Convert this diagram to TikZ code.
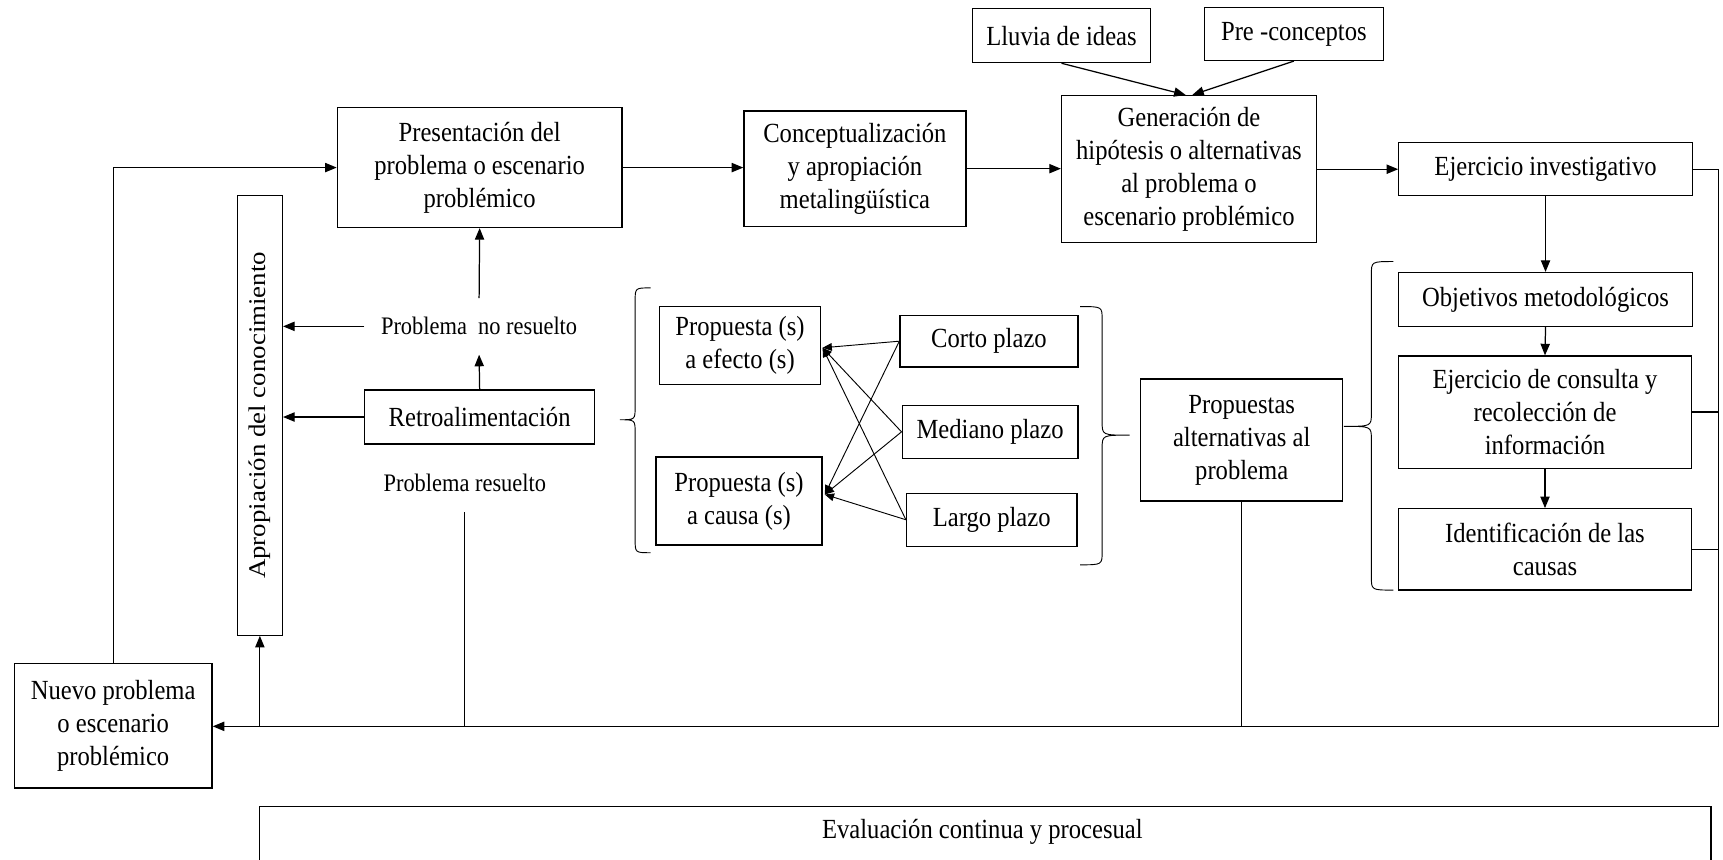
\documentclass[tikz,border=0pt]{standalone}
\usepackage{fontspec}
\setmainfont{Liberation Serif}[FakeStretch=0.89]
\newfontfamily\rotfont{Liberation Serif}
\usetikzlibrary{arrows.meta,calc}
\begin{document}
\begin{tikzpicture}[x=0.025cm,y=-0.025cm,
  box/.style={draw,line width=0.8pt,align=center,inner sep=0pt,font=\fontsize{17.9pt}{21.3pt}\selectfont},
  txt/.style={align=center,inner sep=0pt,font=\fontsize{17.9pt}{21.3pt}\selectfont},
  smalltxt/.style={align=center,inner sep=0pt,font=\fontsize{16.3pt}{19.5pt}\selectfont},
  ln/.style={line width=0.8pt},
  bracel/.style={line width=0.6pt},
  arr/.style={line width=0.8pt,-{Triangle[length=7.5pt,width=6pt]}},
  arrs/.style={line width=0.6pt,-{Triangle[length=6pt,width=5pt]}}]
\useasboundingbox (0,0) rectangle (1568,782);
\begin{scope}
\clip (0,0) rectangle (1568,782);
\node[box,minimum width=33.025cm,minimum height=2.5cm] (evalbox) at (896.5,784) {};
\end{scope}
\node[txt] (evaltxt) at (894,757) {Evaluación continua y procesual};

% top row
\node[box,minimum width=4.05cm,minimum height=1.225cm] (lluvia) at (966,32.5) {Lluvia de ideas};
\node[box,minimum width=4.075cm,minimum height=1.2cm] (pre) at (1177.5,31) {Pre -conceptos};
\node[box,minimum width=5.8cm,minimum height=3.35cm] (gen) at (1082,154) {Generación de\\hipótesis o alternativas\\al problema o\\escenario problémico};
\node[box,minimum width=6.475cm,minimum height=2.725cm] (pres) at (436.5,152.5) {Presentación del\\problema o escenario\\problémico};
\node[box,minimum width=5.05cm,minimum height=2.625cm] (concept) at (778,153.5) {Conceptualización\\y apropiación\\metalingüística};
\node[box,minimum width=6.675cm,minimum height=1.2cm] (ejinv) at (1406.5,154) {Ejercicio investigativo};

% right column
\node[box,minimum width=6.675cm,minimum height=1.225cm] (obj) at (1406.5,272.5) {Objetivos metodológicos};
\node[box,minimum width=6.65cm,minimum height=2.55cm] (consulta) at (1406,375) {Ejercicio de consulta y\\recolección de\\información};
\node[box,minimum width=6.65cm,minimum height=1.85cm] (ident) at (1406,500) {Identificación de las\\causas};

% left part
\node[box,minimum width=4.5cm,minimum height=2.825cm] (nuevo) at (103,660.5) {Nuevo problema\\o escenario\\problémico};
\node[box,minimum width=1.025cm,minimum height=10cm] (apro) at (236.5,378) {\rotatebox{90}{\scalebox{1}[0.89]{\rotfont\fontsize{17.4pt}{20pt}\selectfont Apropiación del conocimiento}}};
\node[box,minimum width=5.225cm,minimum height=1.225cm] (retro) at (436.5,379.5) {Retroalimentación};
\node[smalltxt,minimum width=5.2cm,minimum height=1.275cm] (nores) at (436,297) {Problema\ \ no resuelto};
\node[smalltxt,minimum height=1.35cm] (res) at (423,439) {Problema resuelto};

% middle
\node[box,minimum width=3.675cm,minimum height=1.775cm] (efecto) at (673.5,314.5) {Propuesta (s)\\a efecto (s)};
\node[box,minimum width=3.775cm,minimum height=2cm] (causa) at (672.5,456) {Propuesta (s)\\a causa (s)};
\node[box,minimum width=4.05cm,minimum height=1.175cm] (corto) at (900,310.5) {Corto plazo};
\node[box,minimum width=4cm,minimum height=1.2cm] (mediano) at (901,393) {Mediano plazo};
\node[box,minimum width=3.875cm,minimum height=1.2cm] (largo) at (902.5,473) {Largo plazo};
\node[box,minimum width=4.6cm,minimum height=2.775cm] (propalt) at (1130,400.5) {Propuestas\\alternativas al\\problema};

\coordinate (rtop) at (1564,154);
\coordinate (rbot) at (1564,661);
\coordinate (te) at ($(efecto.east)+(1,2)$);
\coordinate (tc) at ($(causa.east)+(2,-6)$);

% main flow
\draw[arr] (lluvia.south) -- ($(gen.north)+(-3,0)$);
\draw[arr] (pre.south) -- ($(gen.north)+(3,0)$);
\draw[arr] (pres.east) -- (pres.east -| concept.west);
\draw[arr] (concept.east) -- (concept.east -| gen.west);
\draw[arr] (gen.east) -- (gen.east -| ejinv.west);
\draw[arr] (ejinv.south) -- (obj.north);
\draw[arr] (obj.south) -- (consulta.north);
\draw[arr] (consulta.south) -- (ident.north);

% right return line and bottom line
\draw[ln] (ejinv.east) -- (rtop) -- (rbot);
\draw[ln] (consulta.east) -- (consulta.east -| rtop);
\draw[ln] (ident.east) -- (ident.east -| rtop);
\draw[arr] (rbot) -- (rbot -| nuevo.east);
\draw[ln] (propalt.south) -- (propalt.south |- rbot);
\draw[ln] (res.south) -- (res.south |- rbot);
\draw[arr] (apro.south |- rbot) -- (apro.south);
\draw[arr] (nuevo.north) |- (pres.west);

% feedback
\draw[arr] (retro.west) -- (retro.west -| apro.east);
\draw[arr] (nores.west) -- (nores.west -| apro.east);
\draw[arr] (retro.north) -- (nores.south);
\draw[arr] (nores.north) -- (pres.south);

% crossing arrows
\foreach \s in {corto,mediano,largo}{
  \draw[arrs] (\s.west) -- (te);
  \draw[arrs] (\s.west) -- (tc);
}

% braces
\draw[bracel] (592,262) .. controls (578,262) .. (578,274) -- (578,370) .. controls (578,382) .. (564,382) .. controls (578,382) .. (578,394) -- (578,491) .. controls (578,503) .. (592,503);
\draw[bracel] (983,279) .. controls (1003,279) .. (1003,291) -- (1003,384) .. controls (1003,396) .. (1028,396) .. controls (1003,396) .. (1003,408) -- (1003,502) .. controls (1003,514) .. (983,514);
\draw[bracel] (1268,238) .. controls (1248,238) .. (1248,250) -- (1248,376) .. controls (1248,388) .. (1223,388) .. controls (1248,388) .. (1248,400) -- (1248,525) .. controls (1248,537) .. (1268,537);
\end{tikzpicture}
\end{document}
